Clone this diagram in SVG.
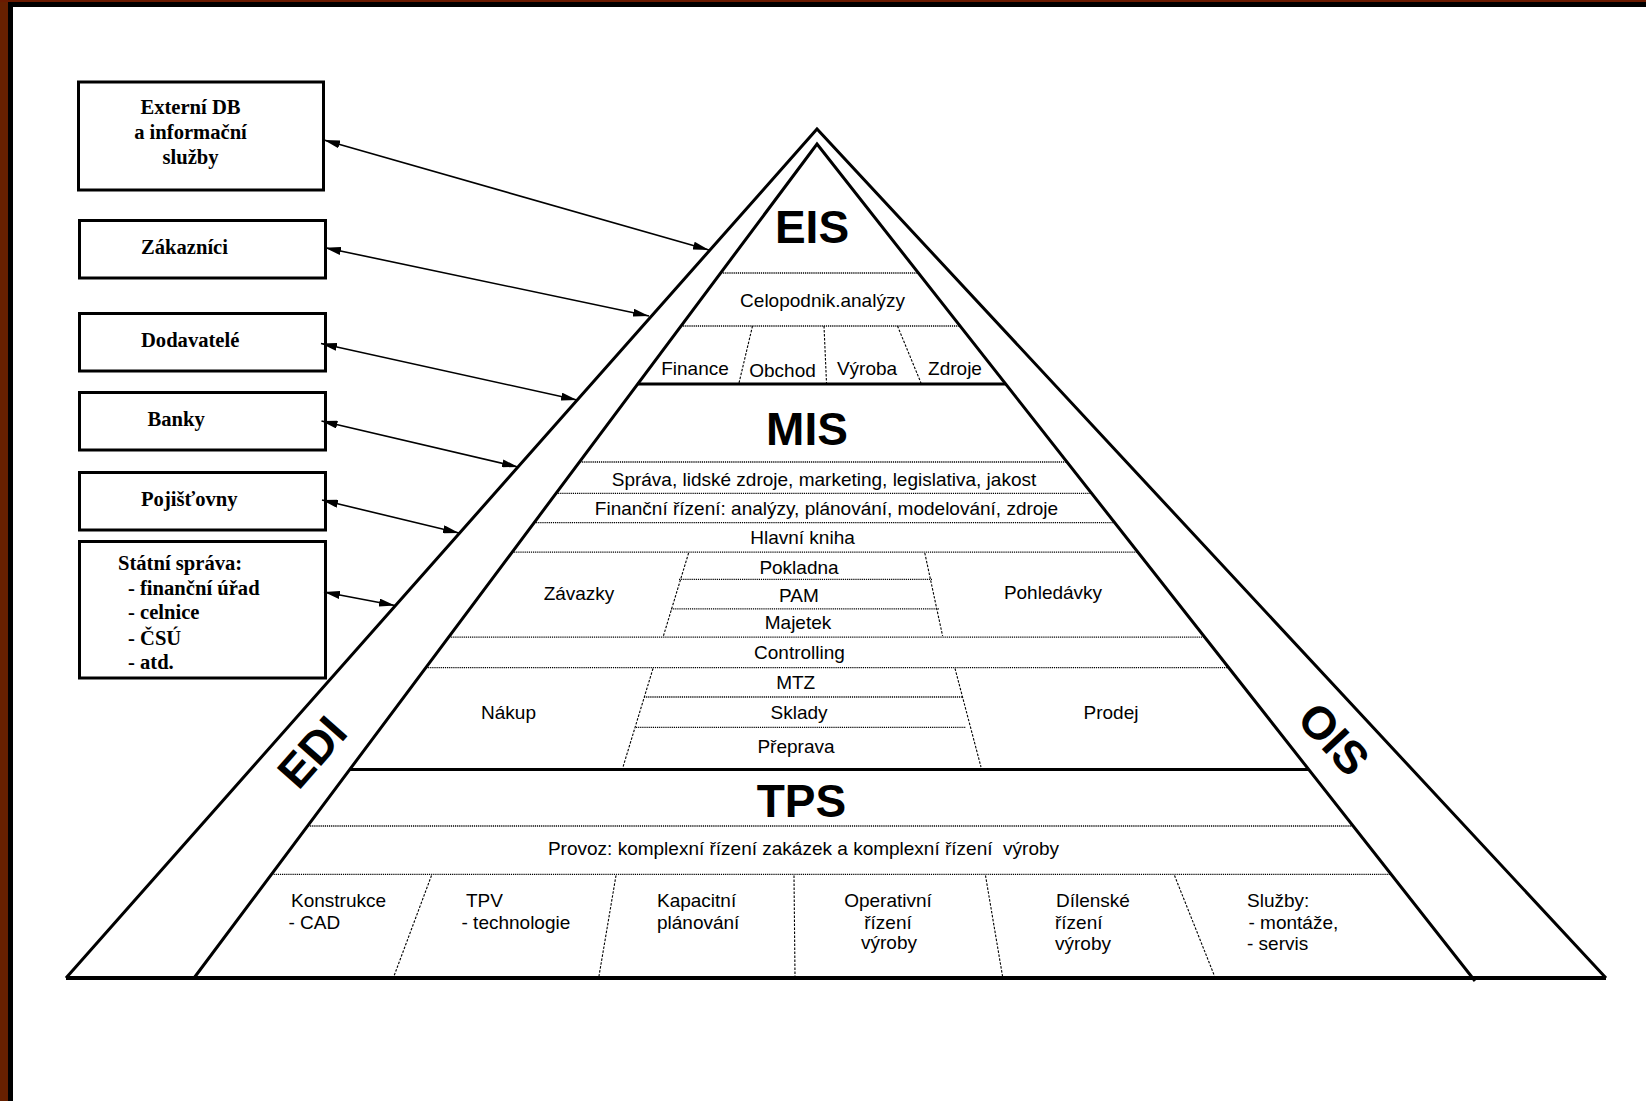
<svg xmlns="http://www.w3.org/2000/svg" width="1646" height="1101" viewBox="0 0 1646 1101">
<style>
.t{font-family:"Liberation Sans",Arial,sans-serif;font-size:19px;fill:#000}
.m{text-anchor:middle}
.big{font-family:"Liberation Sans",Arial,sans-serif;font-weight:bold;font-size:46px;fill:#000;text-anchor:middle}
.bt{font-family:"Liberation Serif","Times New Roman",serif;font-weight:bold;font-size:20.6px;fill:#000}
.box{fill:#fff;stroke:#000;stroke-width:3}
.edge{fill:none;stroke:#000;stroke-width:3;stroke-linejoin:miter}
.sep{stroke:#000;stroke-width:3}
.dot{stroke:#000;stroke-width:1.3;stroke-dasharray:1.2 0.9;fill:none}
.dash{stroke:#000;stroke-width:1.1;stroke-dasharray:2.5 1.5;fill:none}
.arrow{stroke:#000;stroke-width:1.6;fill:none;marker-start:url(#ah);marker-end:url(#ah)}
</style>
<defs>
<marker id="ah" viewBox="0 0 16 8" refX="16" refY="4" markerWidth="16" markerHeight="8" markerUnits="userSpaceOnUse" orient="auto-start-reverse">
<path d="M0,0 L16,4 L0,8 z" fill="#000"/>
</marker>
</defs>
<rect x="0" y="0" width="1646" height="1101" fill="#fff"/>
<g id="frame">
<rect x="0" y="0" width="8" height="1101" fill="#662000"/>
<rect x="0" y="0" width="1646" height="2" fill="#6b1a00"/>
<rect x="8" y="2" width="5" height="1099" fill="#000"/>
<rect x="8" y="2" width="1638" height="5" fill="#000"/>
</g>
<g id="pyramid">
<polyline class="edge" points="66,978 817,129 1606,978"/>
<polyline class="edge" points="194,978 817,144 1475,981"/>
<line x1="66" y1="978" x2="1606" y2="978" stroke="#000" stroke-width="4"/>
</g>
<g id="eis">
<text class="big" x="812" y="243">EIS</text>
<line class="dot" x1="721" y1="273" x2="918" y2="273"/>
<text class="t m" x="822.5" y="307">Celopodnik.analýzy</text>
<line class="dot" x1="681" y1="326" x2="960" y2="326"/>
<line class="dash" x1="752.5" y1="326" x2="739" y2="383"/>
<line class="dash" x1="824" y1="326" x2="826.5" y2="383"/>
<line class="dash" x1="897.5" y1="326" x2="921" y2="383"/>
<text class="t m" x="695" y="375">Finance</text>
<text class="t m" x="782.5" y="377">Obchod</text>
<text class="t m" x="867" y="375">Výroba</text>
<text class="t m" x="955" y="375">Zdroje</text>
<line class="sep" x1="637" y1="384" x2="1006" y2="384"/>
</g>
<g id="mis">
<text class="big" x="807" y="445">MIS</text>
<line class="dot" x1="580" y1="462" x2="1067" y2="462"/>
<text class="t m" x="824" y="486">Správa, lidské zdroje, marketing, legislativa, jakost</text>
<line class="dot" x1="556" y1="493.3" x2="1092" y2="493.3"/>
<text class="t m" x="826.5" y="515">Finanční řízení: analýzy, plánování, modelování, zdroje</text>
<line class="dot" x1="534" y1="522.7" x2="1115" y2="522.7"/>
<text class="t m" x="802.5" y="544">Hlavní kniha</text>
<line class="dot" x1="512" y1="552.1" x2="1138" y2="552.1"/>
<line class="dash" x1="688.6" y1="553" x2="663.4" y2="636"/>
<line class="dash" x1="924.8" y1="553" x2="942.6" y2="636"/>
<text class="t m" x="799" y="573.5">Pokladna</text>
<line class="dot" x1="679" y1="579.4" x2="932" y2="579.4"/>
<text class="t m" x="799" y="601.5">PAM</text>
<line class="dot" x1="671" y1="608.8" x2="939" y2="608.8"/>
<text class="t m" x="798" y="628.5">Majetek</text>
<text class="t m" x="579" y="600">Závazky</text>
<text class="t m" x="1053" y="598.5">Pohledávky</text>
<line class="dot" x1="449" y1="637.2" x2="1205" y2="637.2"/>
<text class="t m" x="799.5" y="658.5">Controlling</text>
<line class="dot" x1="426" y1="667.6" x2="1229" y2="667.6"/>
<line class="dash" x1="653" y1="668.5" x2="623" y2="767"/>
<line class="dash" x1="955" y1="668.5" x2="981" y2="767"/>
<text class="t m" x="795.7" y="689.3">MTZ</text>
<line class="dot" x1="644" y1="697" x2="963" y2="697"/>
<text class="t m" x="799" y="719.3">Sklady</text>
<line class="dot" x1="636" y1="727.4" x2="966" y2="727.4"/>
<text class="t m" x="796" y="752.5">Přeprava</text>
<text class="t m" x="508.5" y="718.5">Nákup</text>
<text class="t m" x="1111" y="718.5">Prodej</text>
<line class="sep" x1="350" y1="769.5" x2="1309" y2="769.5"/>
</g>
<g id="tps">
<text class="big" x="801.5" y="816.5">TPS</text>
<line class="dot" x1="308" y1="826" x2="1353" y2="826"/>
<text class="t m" x="803.5" y="855" xml:space="preserve">Provoz: komplexní řízení zakázek a komplexní řízení  výroby</text>
<line class="dot" x1="271.5" y1="874.4" x2="1391.5" y2="874.4"/>
<line class="dash" x1="431.5" y1="875.5" x2="394" y2="976"/>
<line class="dash" x1="616" y1="875.5" x2="599" y2="976"/>
<line class="dash" x1="794" y1="875.5" x2="795" y2="976"/>
<line class="dash" x1="985.5" y1="875.5" x2="1002.5" y2="976"/>
<line class="dash" x1="1174.5" y1="875.5" x2="1214.5" y2="976"/>
<text class="t" x="291" y="907">Konstrukce</text>
<text class="t" x="288.5" y="928.5">- CAD</text>
<text class="t" x="466" y="907">TPV</text>
<text class="t" x="461.5" y="928.5">- technologie</text>
<text class="t" x="657" y="907">Kapacitní</text>
<text class="t" x="657" y="928.5">plánování</text>
<text class="t m" x="888" y="907">Operativní</text>
<text class="t m" x="888" y="928.5">řízení</text>
<text class="t m" x="889" y="949">výroby</text>
<text class="t" x="1056" y="907">Dílenské</text>
<text class="t" x="1055" y="928.5">řízení</text>
<text class="t" x="1055" y="950">výroby</text>
<text class="t" x="1247" y="907">Služby:</text>
<text class="t" x="1248.5" y="928.5">- montáže,</text>
<text class="t" x="1247" y="949.5">- servis</text>
</g>
<g id="edi">
<text class="big" transform="translate(312,752) rotate(-48.5)" y="16">EDI</text>
</g>
<g id="ois">
<text class="big" transform="translate(1334,739) rotate(47.1)" y="16">OIS</text>
</g>
<g id="node-externi-db">
<rect class="box" x="78.5" y="82" width="245" height="108"/>
<text class="bt m" x="190.5" y="114.3">Externí DB</text>
<text class="bt m" x="190.5" y="138.5">a informační</text>
<text class="bt m" x="190.5" y="164">služby</text>
</g>
<g id="node-zakaznici">
<rect class="box" x="79.5" y="220.5" width="246" height="57.5"/>
<text class="bt" x="141" y="253.5">Zákazníci</text>
</g>
<g id="node-dodavatele">
<rect class="box" x="79.5" y="313.5" width="246" height="57.5"/>
<text class="bt" x="141" y="347">Dodavatelé</text>
</g>
<g id="node-banky">
<rect class="box" x="79.5" y="392.5" width="246" height="57.5"/>
<text class="bt" x="147.5" y="426">Banky</text>
</g>
<g id="node-pojistovny">
<rect class="box" x="79.5" y="472.5" width="246" height="57.5"/>
<text class="bt" x="141" y="506">Pojišťovny</text>
</g>
<g id="node-statni-sprava">
<rect class="box" x="79.5" y="541.5" width="246" height="136.5"/>
<text class="bt" x="118" y="569.5">Státní správa:</text>
<text class="bt" x="128" y="594.5">- finanční úřad</text>
<text class="bt" x="128" y="619">- celnice</text>
<text class="bt" x="128" y="644.5">- ČSÚ</text>
<text class="bt" x="128" y="669">- atd.</text>
</g>
<g id="connectors">
<line class="arrow" x1="324" y1="140" x2="709" y2="250"/>
<line class="arrow" x1="325" y1="247.7" x2="649" y2="316"/>
<line class="arrow" x1="321" y1="343.5" x2="577" y2="400"/>
<line class="arrow" x1="321.5" y1="421" x2="518" y2="467"/>
<line class="arrow" x1="322" y1="500" x2="459" y2="533"/>
<line class="arrow" x1="324" y1="592" x2="395" y2="605.5"/>
</g>
</svg>
